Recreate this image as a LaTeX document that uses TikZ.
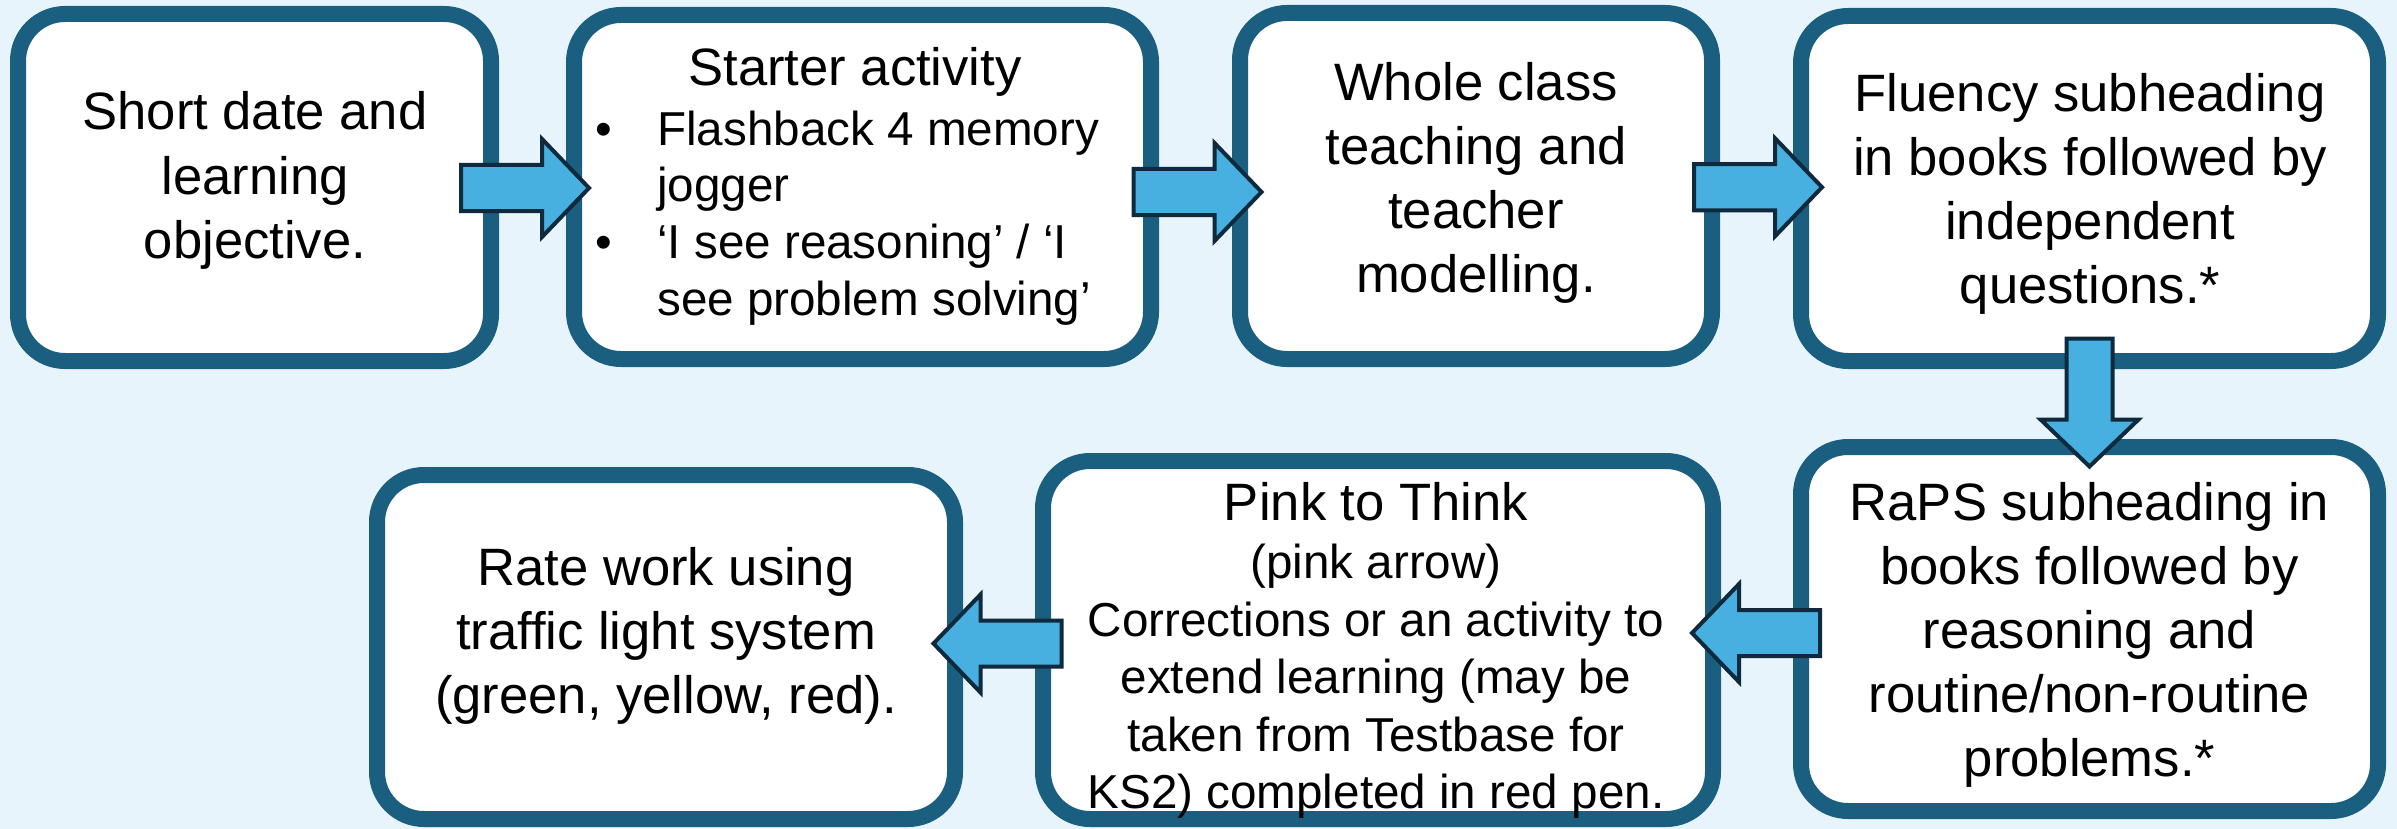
\documentclass[tikz,border=0pt]{standalone}
\usepackage{fontspec}
\setmainfont{Liberation Sans}
\usetikzlibrary{calc}
\definecolor{bgc}{HTML}{E8F4FC}
\definecolor{bordc}{HTML}{1A5F80}
\definecolor{arrfill}{HTML}{47B0E0}
\definecolor{arrline}{HTML}{0E2A3C}
\newcommand\setfs[2]{\fontsize{#1}{#2}\selectfont}
\newcommand\blockarrow[2]{%
  \draw[flowarrow, shift={(#1)}, rotate=#2] (-64,-23) -- (17,-23) -- (17,-49) -- (64,0) -- (17,49) -- (17,23) -- (-64,23) -- cycle;}
\begin{document}
\begin{tikzpicture}[x=1pt,y=-1pt,
  box/.style={draw=bordc, line width=16pt, fill=white, rounded corners=47pt, inner sep=0pt},
  txt/.style={align=center, font=\setfs{52.6}{64}, inner sep=0pt},
  flowarrow/.style={draw=arrline, fill=arrfill, line width=4pt, line join=miter}]
\fill[bgc] (0,0) rectangle (2397,829);
\useasboundingbox (0,0) rectangle (2397,829);
% boxes
\node[box, minimum width=473pt, minimum height=347pt] (b1) at (254.5,187.5) {};
\node[box, minimum width=577pt, minimum height=344pt] (b2) at (862.5,187) {};
\node[box, minimum width=472pt, minimum height=346pt] (b3) at (1476,186) {};
\node[box, minimum width=577pt, minimum height=345pt] (b4) at (2089.5,188.5) {};
\node[box, minimum width=577pt, minimum height=364pt] (b5) at (2089.5,629) {};
\node[box, minimum width=670pt, minimum height=358pt] (b6) at (1378,640) {};
\node[box, minimum width=578pt, minimum height=344pt] (b7) at (666,647) {};
% texts
\node[txt] (t1) at (255,180.4) {Short date and\\learning\\objective.};
\node[txt] (t2a) at (855,72.4) {Starter activity};
\node[anchor=north west, inner sep=0pt, font=\setfs{47.6}{56.7}, align=left] (t2b) at (595,105.3)
  {\begin{tabular}{@{}p{62pt}@{}l@{}}•&Flashback 4 memory\\ &jogger\\ •&‘I see reasoning’ / ‘I\\ &see problem solving’\end{tabular}};
\node[txt] (t3) at (1476,183.2) {Whole class\\teaching and\\teacher\\modelling.};
\node[txt] (t4) at (2090,194) {Fluency subheading\\in books followed by\\independent\\questions.*};
\node[txt] (t5) at (2089.5,635.3) {RaPS subheading in\\books followed by\\reasoning and\\routine/non-routine\\problems.*};
\node[txt, font=\setfs{47.6}{57.6}] (t6) at (1376,650.7) {{\setfs{52.6}{57.6}Pink to Think}\\(pink arrow)\\Corrections or an activity to\\extend learning (may be\\taken from Testbase for\\KS2) completed in red pen.};
\node[txt] (t7) at (666,635.7) {Rate work using\\traffic light system\\(green, yellow, red).};
% arrows
\coordinate (a1) at ($(b1.east)!0.5!(b2.west)+(-7.5,0.75)$);
\coordinate (a2) at ($(b2.east)!0.5!(b3.west)+(2,5.5)$);
\coordinate (a3) at ($(b3.east)!0.5!(b4.west)+(1.5,0)$);
\coordinate (a4) at ($(b4.south)!0.5!(b5.north)+(0,-1.5)$);
\coordinate (a5) at ($(b5.west)!0.5!(b6.east)+(-1,-1.5)$);
\coordinate (a6) at ($(b6.west)!0.5!(b7.east)+(-1.5,0)$);
\blockarrow{a1}{0}
\blockarrow{a2}{0}
\blockarrow{a3}{0}
\blockarrow{a4}{-90}
\blockarrow{a5}{180}
\blockarrow{a6}{180}
\end{tikzpicture}
\end{document}
